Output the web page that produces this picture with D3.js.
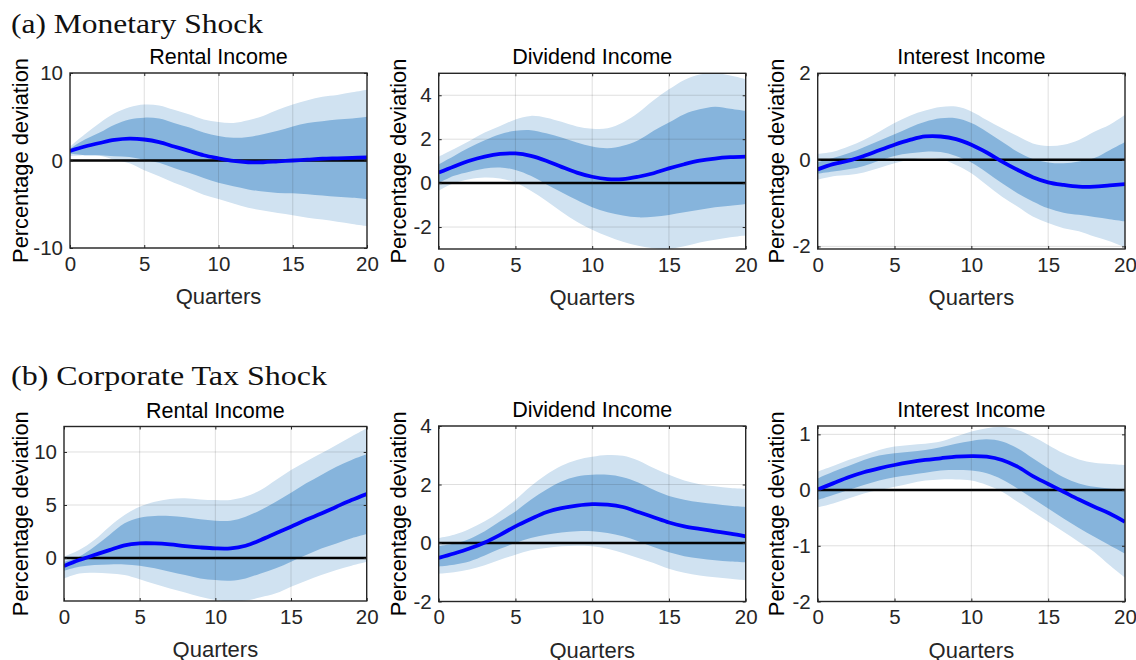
<!DOCTYPE html>
<html>
<head>
<meta charset="utf-8">
<script src="https://cdn.jsdelivr.net/npm/d3@7"></script>
<style>
  html, body { margin: 0; padding: 0; background: #fff; }
  svg { display: block; }
</style>
</head>
<body>
<svg id="chart" width="1136" height="660"></svg>
<script>
// ---------------- DATA ----------------
const quarters = d3.range(0, 21);
const xTicks = [0, 5, 10, 15, 20];

const sectionTitles = ["(a) Monetary Shock", "(b) Corporate Tax Shock"];
const panelTitles = ["Rental Income", "Dividend Income", "Interest Income"];

// (a) Monetary shock — Rental income
const monRentMed = [1.1, 1.6, 2.0, 2.35, 2.5, 2.4, 2.1, 1.6, 1.1, 0.6, 0.25, -0.05, -0.2, -0.2, -0.1, 0.0, 0.1, 0.2, 0.25, 0.3, 0.35];
const monRentIn68Hi = [1.35, 2.4, 3.2, 4.1, 4.7, 4.9, 4.8, 4.3, 3.8, 3.2, 2.8, 2.6, 2.7, 3.0, 3.4, 3.9, 4.3, 4.5, 4.7, 4.8, 5.0];
const monRentIn68Lo = [0.8, 0.6, 0.6, 0.5, 0.4, 0.1, -0.27, -0.85, -1.4, -2.0, -2.55, -2.95, -3.3, -3.55, -3.7, -3.75, -3.85, -4.0, -4.15, -4.25, -4.4];
const monRentOut90Hi = [1.6, 3.0, 4.3, 5.4, 6.1, 6.4, 6.3, 5.8, 5.3, 4.7, 4.4, 4.3, 4.6, 5.1, 5.8, 6.4, 6.9, 7.3, 7.5, 7.8, 8.1];
const monRentOut90Lo = [0.5, 0.6, 0.55, 0.1, -0.3, -1.1, -1.8, -2.55, -3.2, -3.9, -4.4, -4.9, -5.4, -5.7, -6.0, -6.25, -6.55, -6.75, -7.0, -7.25, -7.5];

// (a) Monetary shock — Dividend income
const monDivMed = [0.48, 0.76, 1.02, 1.21, 1.33, 1.35, 1.24, 1.02, 0.74, 0.48, 0.29, 0.18, 0.18, 0.29, 0.45, 0.67, 0.86, 1.02, 1.12, 1.18, 1.21];
const monDivIn68Hi = [0.86, 1.24, 1.62, 1.95, 2.23, 2.38, 2.41, 2.27, 2.08, 1.85, 1.67, 1.59, 1.7, 1.95, 2.38, 2.76, 3.14, 3.36, 3.48, 3.39, 3.29];
const monDivIn68Lo = [0.0, 0.33, 0.52, 0.67, 0.71, 0.6, 0.33, -0.05, -0.42, -0.77, -1.1, -1.33, -1.48, -1.56, -1.53, -1.45, -1.33, -1.21, -1.1, -1.03, -0.95];
const monDivOut90Hi = [1.2, 1.55, 1.92, 2.3, 2.6, 2.9, 3.06, 2.98, 2.79, 2.58, 2.48, 2.5, 2.76, 3.2, 3.77, 4.27, 4.7, 4.95, 5.0, 4.9, 4.73];
const monDivOut90Lo = [-0.35, 0.0, 0.18, 0.26, 0.21, 0.03, -0.35, -0.8, -1.3, -1.76, -2.12, -2.42, -2.67, -2.85, -2.97, -3.0, -2.88, -2.7, -2.58, -2.47, -2.39];

// (a) Monetary shock — Interest income
const monIntMed = [-0.22, -0.1, -0.02, 0.09, 0.22, 0.35, 0.46, 0.54, 0.54, 0.48, 0.35, 0.17, -0.04, -0.23, -0.4, -0.52, -0.58, -0.62, -0.62, -0.59, -0.56];
const monIntIn68Hi = [-0.06, 0.04, 0.15, 0.29, 0.44, 0.59, 0.75, 0.88, 0.96, 0.96, 0.85, 0.65, 0.42, 0.19, 0.02, -0.06, -0.08, -0.04, 0.04, 0.22, 0.41];
const monIntIn68Lo = [-0.32, -0.27, -0.22, -0.14, -0.02, 0.09, 0.15, 0.19, 0.18, 0.09, -0.06, -0.29, -0.54, -0.77, -0.96, -1.12, -1.22, -1.27, -1.32, -1.37, -1.42];
const monIntOut90Hi = [0.14, 0.19, 0.31, 0.46, 0.65, 0.85, 1.02, 1.14, 1.22, 1.23, 1.12, 0.92, 0.73, 0.55, 0.38, 0.32, 0.35, 0.46, 0.65, 0.81, 1.04];
const monIntOut90Lo = [-0.46, -0.38, -0.35, -0.29, -0.19, -0.08, 0.0, 0.04, 0.02, -0.12, -0.31, -0.58, -0.85, -1.08, -1.31, -1.46, -1.58, -1.65, -1.77, -1.88, -2.02];

// (b) Corporate tax shock — Rental income
const taxRentMed = [-0.75, -0.19, 0.28, 0.75, 1.2, 1.38, 1.38, 1.29, 1.13, 1.0, 0.91, 0.91, 1.16, 1.7, 2.33, 2.96, 3.6, 4.2, 4.84, 5.47, 6.04];
const taxRentIn68Hi = [-0.35, 0.13, 1.07, 2.17, 3.27, 3.8, 3.96, 3.96, 3.84, 3.65, 3.52, 3.52, 3.9, 4.53, 5.31, 6.16, 7.04, 7.83, 8.6, 9.25, 9.78];
const taxRentIn68Lo = [-1.2, -0.82, -0.66, -0.6, -0.6, -0.72, -0.97, -1.29, -1.6, -1.92, -2.08, -2.14, -1.92, -1.45, -0.97, -0.35, 0.28, 0.91, 1.38, 1.86, 2.26];
const taxRentOut90Hi = [0.13, 0.75, 1.7, 2.96, 4.06, 4.84, 5.3, 5.57, 5.63, 5.53, 5.47, 5.47, 5.79, 6.42, 7.36, 8.3, 9.1, 9.87, 10.66, 11.45, 12.23];
const taxRentOut90Lo = [-1.92, -1.45, -1.38, -1.45, -1.6, -2.0, -2.45, -2.86, -3.24, -3.65, -3.95, -4.1, -4.0, -3.7, -3.33, -2.7, -2.14, -1.6, -1.13, -0.72, -0.35];

// (b) Corporate tax shock — Dividend income
const taxDivMed = [-0.51, -0.36, -0.19, 0.02, 0.28, 0.57, 0.82, 1.05, 1.19, 1.28, 1.33, 1.31, 1.23, 1.06, 0.88, 0.7, 0.57, 0.48, 0.4, 0.32, 0.23];
const taxDivIn68Hi = [-0.11, -0.02, 0.14, 0.4, 0.74, 1.08, 1.48, 1.82, 2.1, 2.27, 2.33, 2.33, 2.25, 2.07, 1.82, 1.61, 1.48, 1.39, 1.33, 1.27, 1.23];
const taxDivIn68Lo = [-0.8, -0.74, -0.63, -0.43, -0.2, 0.0, 0.17, 0.28, 0.36, 0.4, 0.4, 0.34, 0.23, 0.06, -0.14, -0.32, -0.45, -0.53, -0.59, -0.63, -0.66];
const taxDivOut90Hi = [0.17, 0.28, 0.48, 0.74, 1.08, 1.48, 1.94, 2.33, 2.64, 2.84, 2.95, 3.01, 2.98, 2.82, 2.56, 2.33, 2.14, 2.01, 1.94, 1.88, 1.85];
const taxDivOut90Lo = [-1.05, -1.0, -0.91, -0.76, -0.57, -0.4, -0.25, -0.17, -0.11, -0.09, -0.11, -0.2, -0.34, -0.51, -0.68, -0.88, -1.02, -1.11, -1.17, -1.22, -1.27];

// (b) Corporate tax shock — Interest income
const taxIntMed = [0.01, 0.12, 0.23, 0.32, 0.39, 0.45, 0.5, 0.54, 0.57, 0.6, 0.61, 0.6, 0.54, 0.42, 0.25, 0.11, -0.03, -0.17, -0.3, -0.42, -0.57];
const taxIntIn68Hi = [0.21, 0.33, 0.43, 0.54, 0.62, 0.66, 0.69, 0.72, 0.77, 0.83, 0.88, 0.91, 0.87, 0.75, 0.57, 0.39, 0.23, 0.12, 0.06, 0.03, 0.01];
const taxIntIn68Lo = [-0.18, -0.09, 0.0, 0.09, 0.17, 0.23, 0.27, 0.31, 0.35, 0.36, 0.35, 0.3, 0.19, 0.03, -0.15, -0.33, -0.51, -0.68, -0.84, -0.99, -1.14];
const taxIntOut90Hi = [0.33, 0.43, 0.54, 0.63, 0.72, 0.78, 0.81, 0.83, 0.87, 0.96, 1.05, 1.11, 1.13, 1.08, 0.96, 0.81, 0.66, 0.55, 0.49, 0.47, 0.45];
const taxIntOut90Lo = [-0.31, -0.24, -0.15, -0.06, 0.0, 0.06, 0.12, 0.17, 0.19, 0.19, 0.17, 0.09, -0.03, -0.21, -0.39, -0.57, -0.75, -0.93, -1.11, -1.35, -1.57];

// y-axis limits and ticks per panel
const yDomains = [[-10, 10], [-3, 5], [-2.06, 2], [-4.05, 12.4], [-2, 4], [-2, 1.15]];
const yTicks = [[-10, 0, 10], [-2, 0, 2, 4], [-2, 0, 2], [0, 5, 10], [-2, 0, 2, 4], [-2, -1, 0, 1]];

// ---------------- LAYOUT ----------------
const panels = [
  {title: panelTitles[0], med: monRentMed, iHi: monRentIn68Hi, iLo: monRentIn68Lo, oHi: monRentOut90Hi, oLo: monRentOut90Lo, yd: yDomains[0], yt: yTicks[0], box: [70, 73, 367, 248], ylx: 28},
  {title: panelTitles[1], med: monDivMed, iHi: monDivIn68Hi, iLo: monDivIn68Lo, oHi: monDivOut90Hi, oLo: monDivOut90Lo, yd: yDomains[1], yt: yTicks[1], box: [438.7, 73.3, 745.7, 249], ylx: 406},
  {title: panelTitles[2], med: monIntMed, iHi: monIntIn68Hi, iLo: monIntIn68Lo, oHi: monIntOut90Hi, oLo: monIntOut90Lo, yd: yDomains[2], yt: yTicks[2], box: [817.7, 73.3, 1125, 249], ylx: 784},
  {title: panelTitles[0], med: taxRentMed, iHi: taxRentIn68Hi, iLo: taxRentIn68Lo, oHi: taxRentOut90Hi, oLo: taxRentOut90Lo, yd: yDomains[3], yt: yTicks[3], box: [64, 426.5, 366.7, 601], ylx: 28},
  {title: panelTitles[1], med: taxDivMed, iHi: taxDivIn68Hi, iLo: taxDivIn68Lo, oHi: taxDivOut90Hi, oLo: taxDivOut90Lo, yd: yDomains[4], yt: yTicks[4], box: [438.7, 426, 745.7, 601.5], ylx: 406},
  {title: panelTitles[2], med: taxIntMed, iHi: taxIntIn68Hi, iLo: taxIntIn68Lo, oHi: taxIntOut90Hi, oLo: taxIntOut90Lo, yd: yDomains[5], yt: yTicks[5], box: [817.7, 426, 1125, 601.5], ylx: 784}
];

const svg = d3.select("#chart");
const SANS = "'Liberation Sans', Arial, Helvetica, sans-serif";
const SERIF = "'Liberation Serif', 'DejaVu Serif', serif";
const TXT = "#262626";
const colOuter = "#d0e2f1";
const colInner = "#86b4dc";
const curve = d3.curveCatmullRom.alpha(0.5);

// Section headings
svg.append("text").attr("x", 11).attr("y", 33)
  .attr("font-family", SERIF).attr("font-size", 27).attr("fill", "#111")
  .attr("textLength", 252).attr("lengthAdjust", "spacingAndGlyphs")
  .text(sectionTitles[0]);
svg.append("text").attr("x", 11).attr("y", 385)
  .attr("font-family", SERIF).attr("font-size", 27).attr("fill", "#111")
  .attr("textLength", 316).attr("lengthAdjust", "spacingAndGlyphs")
  .text(sectionTitles[1]);

panels.forEach((p, i) => {
  const [x0, y0, x1, y1] = p.box;
  const x = d3.scaleLinear().domain([0, 20]).range([x0, x1]);
  const y = d3.scaleLinear().domain(p.yd).range([y1, y0]);
  const g = svg.append("g");

  const clipId = "clip" + i;
  svg.append("clipPath").attr("id", clipId)
    .append("rect").attr("x", x0).attr("y", y0).attr("width", x1 - x0).attr("height", y1 - y0);

  const plot = g.append("g").attr("clip-path", `url(#${clipId})`);

  const area = (lo, hi) => d3.area()
    .x(d => x(d))
    .y0(d => y(lo[d]))
    .y1(d => y(hi[d]))
    .curve(curve);

  plot.append("path").datum(quarters).attr("d", area(p.oLo, p.oHi)).attr("fill", colOuter);
  plot.append("path").datum(quarters).attr("d", area(p.iLo, p.iHi)).attr("fill", colInner);

  // zero line
  plot.append("line").attr("x1", x0).attr("x2", x1).attr("y1", y(0)).attr("y2", y(0))
    .attr("stroke", "#000").attr("stroke-width", 2.5);

  // median line
  plot.append("path").datum(quarters)
    .attr("d", d3.line().x(d => x(d)).y(d => y(p.med[d])).curve(curve))
    .attr("fill", "none").attr("stroke", "#0000ff").attr("stroke-width", 3.8)
    .attr("stroke-linejoin", "round");

  // grid on top
  const grid = g.append("g").attr("stroke", "rgba(38,38,38,0.15)").attr("stroke-width", 1);
  xTicks.forEach(t => {
    if (t === 0 || t === 20) return;
    grid.append("line").attr("x1", x(t)).attr("x2", x(t)).attr("y1", y0).attr("y2", y1);
  });
  p.yt.forEach(t => {
    grid.append("line").attr("x1", x0).attr("x2", x1).attr("y1", y(t)).attr("y2", y(t));
  });

  // axes (box with inward ticks)
  const axB = g.append("g").attr("transform", `translate(0,${y1})`)
    .call(d3.axisBottom(x).tickValues(xTicks).tickSizeInner(-3).tickSizeOuter(0).tickPadding(8));
  const axT = g.append("g").attr("transform", `translate(0,${y0})`)
    .call(d3.axisTop(x).tickValues(xTicks).tickSizeInner(-3).tickSizeOuter(0).tickFormat(""));
  const axL = g.append("g").attr("transform", `translate(${x0},0)`)
    .call(d3.axisLeft(y).tickValues(p.yt).tickSizeInner(-3).tickSizeOuter(0).tickPadding(7).tickFormat(d3.format("d")));
  const axR = g.append("g").attr("transform", `translate(${x1},0)`)
    .call(d3.axisRight(y).tickValues(p.yt).tickSizeInner(-3).tickSizeOuter(0).tickFormat(""));

  [axB, axT, axL, axR].forEach(a => {
    a.selectAll(".domain").remove();
    a.selectAll(".tick line").attr("stroke", "#262626").attr("stroke-width", 1);
    a.selectAll("text").attr("font-family", SANS).attr("font-size", 20.5).attr("fill", TXT);
  });
  axL.selectAll("text").text(d => d < 0 ? "-" + Math.abs(d) : d);

  g.append("rect").attr("x", x0).attr("y", y0).attr("width", x1 - x0).attr("height", y1 - y0)
    .attr("fill", "none").attr("stroke", "#262626").attr("stroke-width", 1.4);

  // titles and labels
  g.append("text").attr("x", (x0 + x1) / 2).attr("y", y0 - 9)
    .attr("text-anchor", "middle").attr("font-family", SANS).attr("font-size", 21.5).attr("fill", "#000")
    .text(p.title);
  g.append("text").attr("x", (x0 + x1) / 2).attr("y", y1 + 56)
    .attr("text-anchor", "middle").attr("font-family", SANS).attr("font-size", 22).attr("fill", TXT)
    .text("Quarters");
  g.append("text")
    .attr("transform", `translate(${p.ylx},${(y0 + y1) / 2}) rotate(-90)`)
    .attr("text-anchor", "middle").attr("font-family", SANS).attr("font-size", 21.8).attr("fill", "#000")
    .text("Percentage deviation");
});
</script>
</body>
</html>
